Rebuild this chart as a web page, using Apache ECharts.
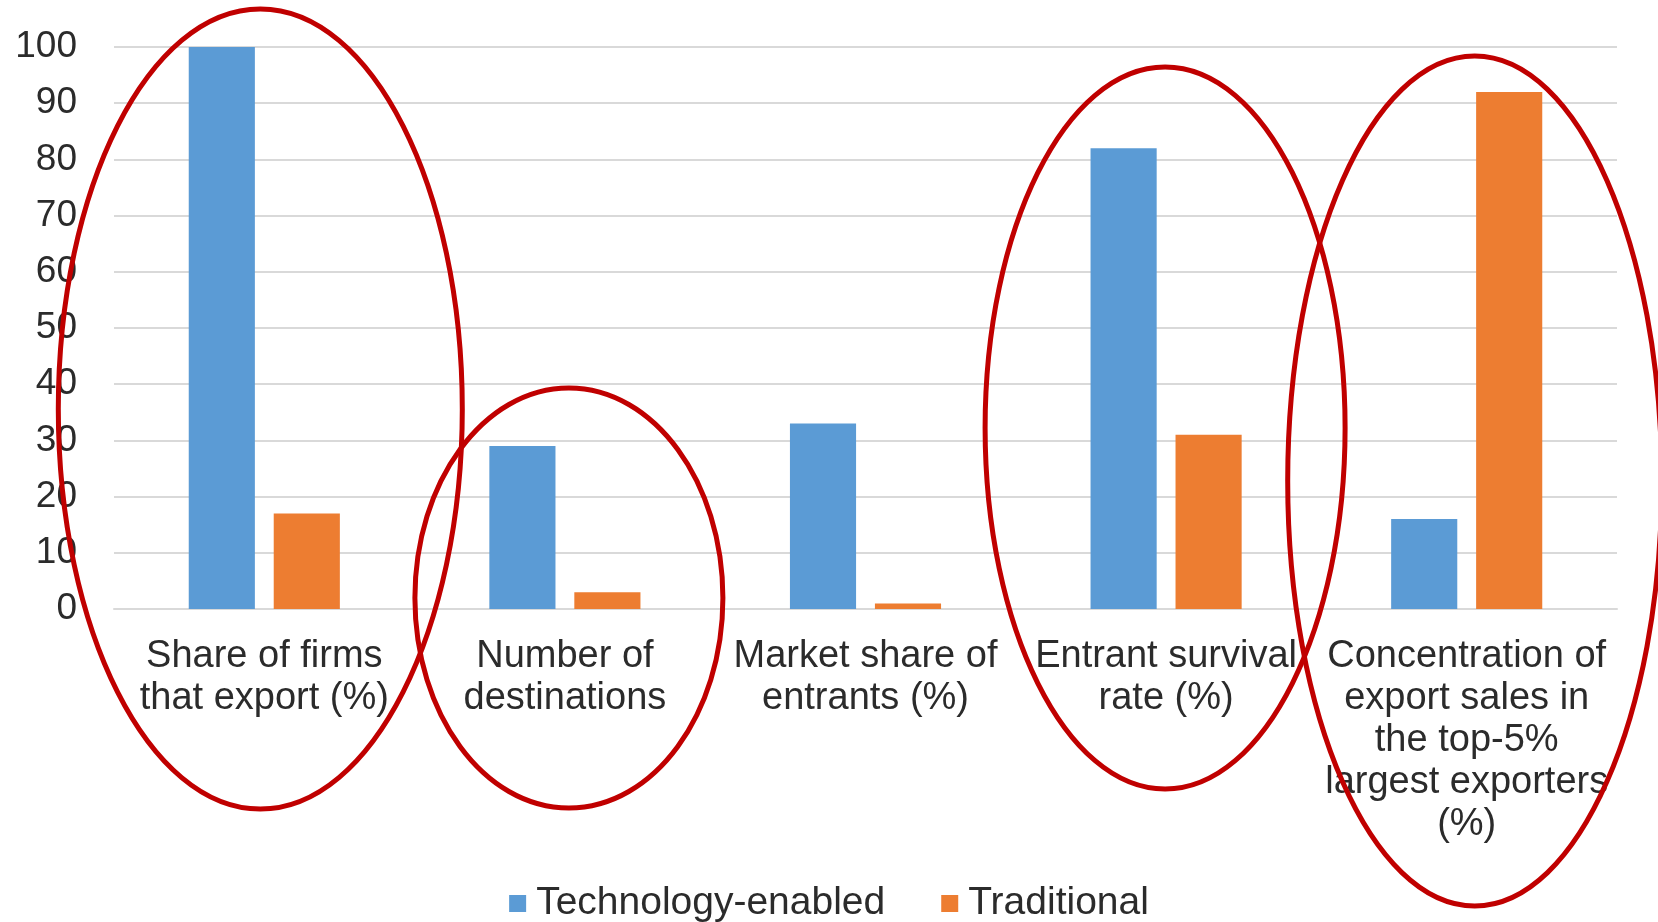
<!DOCTYPE html>
<html>
<head>
<meta charset="utf-8">
<script src="https://cdn.jsdelivr.net/npm/echarts@6/dist/echarts.min.js"></script>
<style>
	html, body { margin: 0; padding: 0; background: #fff; }
	#chart { width: 1658px; height: 922px; }
</style>
</head>
<body>
<div id="chart"></div>
<script>
// categories and values
var categories = [
	'Share of firms\nthat export (%)',
	'Number of\ndestinations',
	'Market share of\nentrants (%)',
	'Entrant survival\nrate (%)',
	'Concentration of\nexport sales in\nthe top-5%\nlargest exporters\n(%)'
];
var techEnabled = [100, 29, 33, 82, 16];
var traditional = [17, 3, 1, 31, 92];
var yTicks = [0, 10, 20, 30, 40, 50, 60, 70, 80, 90, 100];

// red hand-drawn circles around categories (annotation, not data)
var circles = [
	{ cat: 0, dx: -4, cy: 409, rx: 202, ry: 400 },
	{ cat: 1, dx: 4, cy: 598, rx: 154, ry: 210 },
	{ cat: 3, dx: -1, cy: 428, rx: 180, ry: 361 },
	{ cat: 4, dx: 8, cy: 481, rx: 187, ry: 425 }
];

var font = '"Liberation Sans", Arial, sans-serif';
var textColor = '#2b2b2b';

var chart = echarts.init(document.getElementById('chart'));

var options = {
	animation: false,
	grid: { left: 114, right: 41, top: 47, bottom: 313, containLabel: false },
	legend: {
		top: 879,
		left: 'center',
		icon: 'rect',
		itemWidth: 17,
		itemHeight: 17,
		itemGap: 56,
		textStyle: { fontFamily: font, fontSize: 39, color: textColor, padding: [0, 0, 0, 5] },
		data: ['Technology-enabled', 'Traditional']
	},
	xAxis: {
		type: 'category',
		data: categories,
		axisTick: { show: false },
		axisLine: { lineStyle: { color: '#d9d9d9', width: 2 } },
		axisLabel: {
			interval: 0,
			margin: 27,
			fontFamily: font,
			fontSize: 38,
			lineHeight: 42,
			color: textColor,
			align: 'center'
		}
	},
	yAxis: {
		type: 'value',
		min: yTicks[0],
		max: yTicks[yTicks.length - 1],
		interval: 10,
		axisLine: { show: false },
		axisTick: { show: false },
		splitLine: { lineStyle: { color: '#d9d9d9', width: 2 } },
		axisLabel: { margin: 37, fontFamily: font, fontSize: 37, color: textColor }
	},
	series: [
		{
			name: 'Technology-enabled',
			type: 'bar',
			data: techEnabled,
			barWidth: '22%',
			barGap: '28.5%',
			itemStyle: { color: '#5b9bd5' }
		},
		{
			name: 'Traditional',
			type: 'bar',
			data: traditional,
			barWidth: '22%',
			itemStyle: { color: '#ed7d31' }
		}
	]
};

chart.setOption(options);

var elements = circles.map(function(c) {
	var px = chart.convertToPixel({ xAxisIndex: 0 }, c.cat);
	return {
		type: 'ellipse',
		z: 100,
		shape: { cx: px + c.dx, cy: c.cy, rx: c.rx, ry: c.ry },
		style: { fill: null, stroke: '#c00000', lineWidth: 5 }
	};
});
chart.setOption({ graphic: elements });
</script>
</body>
</html>
